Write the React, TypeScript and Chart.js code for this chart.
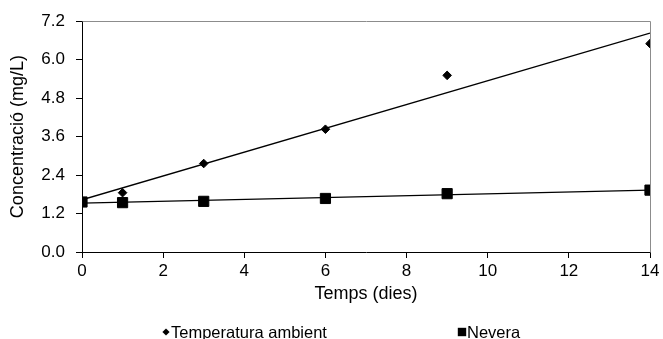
import React, { useEffect, useRef } from 'react';
import { Chart, registerables } from 'chart.js';

Chart.register(...registerables);

// Sampling days and measured concentrations (mg/L)
const days = [0, 1, 3, 6, 9, 14];
const ambient = [1.58, 1.85, 2.76, 3.83, 5.51, 6.5];
const fridge = [1.56, 1.54, 1.58, 1.67, 1.82, 1.93];
const seriesNames = ['Temperatura ambient', 'Nevera'];

// Axis ranges and tick steps
const xRange = [0, 14];
const xStep = 2;
const yRange = [0, 7.2];
const yStep = 1.2;

const xTitle = 'Temps (dies)';
const yTitle = 'Concentració (mg/L)';

const FONT = "'Liberation Sans', Arial, sans-serif";

// Least-squares straight line through a series, evaluated at the first and last day
function trendPoints(xs: number[], ys: number[]) {
  const n = xs.length;
  const mx = xs.reduce((a, b) => a + b, 0) / n;
  const my = ys.reduce((a, b) => a + b, 0) / n;
  let sxy = 0;
  let sxx = 0;
  for (let i = 0; i < n; i++) {
    sxy += (xs[i] - mx) * (ys[i] - my);
    sxx += (xs[i] - mx) * (xs[i] - mx);
  }
  const slope = sxy / sxx;
  const icpt = my - slope * mx;
  const x0 = Math.min(...xs);
  const x1 = Math.max(...xs);
  return [
    { x: x0, y: icpt + slope * x0 },
    { x: x1, y: icpt + slope * x1 },
  ];
}

const toPoints = (ys: number[]) => days.map((d, i) => ({ x: d, y: ys[i] }));

// Grey frame on the top and right of the plot area
const frameEdges = {
  id: 'frameEdges',
  beforeDatasetsDraw(chart: any) {
    const { ctx, chartArea } = chart;
    ctx.save();
    ctx.strokeStyle = '#8c8c8c';
    ctx.lineWidth = 1;
    ctx.beginPath();
    ctx.moveTo(Math.round(chartArea.left) + 0.5, Math.round(chartArea.top) + 0.5);
    ctx.lineTo(Math.round(chartArea.right) + 0.5, Math.round(chartArea.top) + 0.5);
    ctx.lineTo(Math.round(chartArea.right) + 0.5, Math.round(chartArea.bottom) + 0.5);
    ctx.stroke();
    ctx.restore();
  },
};

// Legend row under the axis title
const bottomLegend = {
  id: 'bottomLegend',
  afterDraw(chart: any, _args: any, opts: any) {
    const { ctx } = chart;
    const items = opts.items as { text: string; style: string; x: number }[];
    ctx.save();
    ctx.fillStyle = '#000';
    ctx.font = `${opts.fontSize}px ${FONT}`;
    ctx.textBaseline = 'middle';
    ctx.textAlign = 'left';
    const y = opts.y;
    items.forEach((it) => {
      ctx.beginPath();
      if (it.style === 'rectRot') {
        const r = 3.6;
        ctx.moveTo(it.x - r, y);
        ctx.lineTo(it.x, y - r);
        ctx.lineTo(it.x + r, y);
        ctx.lineTo(it.x, y + r);
        ctx.closePath();
      } else {
        const h = 4.2;
        ctx.rect(it.x - h, y - h, 2 * h, 2 * h);
      }
      ctx.fill();
      ctx.fillText(it.text, it.x + 5, y + 1);
    });
    ctx.restore();
  },
};

export default function App() {
  const ref = useRef<HTMLCanvasElement>(null);

  useEffect(() => {
    const canvas = ref.current;
    if (!canvas) return;

    const chart = new Chart(canvas, {
      type: 'scatter',
      data: {
        datasets: [
          {
            label: seriesNames[1],
            data: toPoints(fridge),
            pointStyle: 'rect',
            pointRadius: 7.2,
            backgroundColor: '#000',
            borderColor: '#000',
            borderWidth: 1,
            showLine: false,
            order: 0,
          },
          {
            label: seriesNames[0],
            data: toPoints(ambient),
            pointStyle: 'rectRot',
            pointRadius: 4.3,
            backgroundColor: '#000',
            borderColor: '#000',
            borderWidth: 1,
            showLine: false,
            order: 1,
          },
          {
            data: trendPoints(days, ambient),
            showLine: true,
            pointRadius: 0,
            borderColor: '#000',
            borderWidth: 1.3,
            order: 2,
          },
          {
            data: trendPoints(days, fridge),
            showLine: true,
            pointRadius: 0,
            borderColor: '#000',
            borderWidth: 1.3,
            order: 2,
          },
        ],
      },
      options: {
        responsive: false,
        animation: false,
        devicePixelRatio: 1,
        layout: { padding: { top: 21, right: 13, bottom: 32, left: 0 } },
        plugins: {
          legend: { display: false },
          tooltip: { enabled: false },
          bottomLegend: {
            y: 332,
            fontSize: 16.5,
            items: [
              { text: seriesNames[0], style: 'rectRot', x: 166 },
              { text: seriesNames[1], style: 'rect', x: 462 },
            ],
          },
        } as any,
        scales: {
          x: {
            type: 'linear',
            min: xRange[0],
            max: xRange[1],
            ticks: {
              stepSize: xStep,
              color: '#000',
              font: { family: FONT, size: 17 },
              padding: 3,
              maxRotation: 0,
            },
            grid: {
              drawOnChartArea: false,
              drawTicks: true,
              tickLength: 6,
              color: '#000',
              tickColor: '#000',
            },
            border: { color: '#000', width: 1 },
            title: {
              display: true,
              text: xTitle,
              color: '#000',
              font: { family: FONT, size: 18 },
              padding: { top: 0, bottom: 2 },
            },
            afterFit: (s: any) => {
              s.height = 55;
            },
          },
          y: {
            type: 'linear',
            min: yRange[0],
            max: yRange[1],
            ticks: {
              stepSize: yStep,
              color: '#000',
              font: { family: FONT, size: 17 },
              padding: 11,
              callback: (v: any) => Number(v).toFixed(1),
            },
            grid: {
              drawOnChartArea: false,
              drawTicks: true,
              tickLength: 6,
              color: '#000',
              tickColor: '#000',
            },
            border: { color: '#000', width: 1 },
            title: {
              display: true,
              text: yTitle,
              color: '#000',
              font: { family: FONT, size: 18 },
              padding: { top: 7, bottom: 0 },
            },
            afterFit: (s: any) => {
              s.width = 82;
            },
          },
        },
      },
      plugins: [frameEdges, bottomLegend],
    });

    return () => chart.destroy();
  }, []);

  return (
    <div style={{ position: 'absolute', left: 0, top: 0, width: 663, height: 339, background: '#fff' }}>
      <canvas ref={ref} width={663} height={339} style={{ display: 'block', width: 663, height: 339 }} />
    </div>
  );
}
